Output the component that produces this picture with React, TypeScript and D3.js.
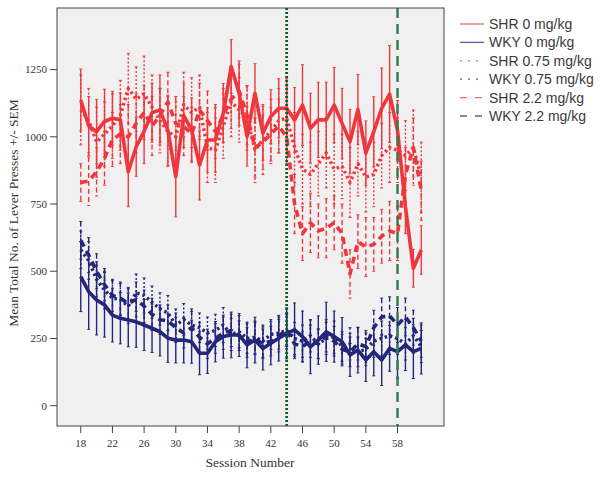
import React from "react";
import * as d3 from "d3";

const sessions = [18,19,20,21,22,23,24,25,26,27,28,29,30,31,32,33,34,35,36,37,38,39,40,41,42,43,44,45,46,47,48,49,50,51,52,53,54,55,56,57,58,59,60,61];
const xTicks = [18,22,26,30,34,38,42,46,50,54,58];
const yTicks = [0,250,500,750,1000,1250];
const refLines = [44, 58];

const shr0Mean = [1137,1040,1019,1057,1069,1063,870,963,1020,1090,1100,1025,852,1080,1025,895,988,988,1088,1261,1162,1001,1162,1013,1075,1106,1106,1063,1118,1032,1063,1063,1118,1050,982,1102,939,1019,1106,1159,1025,740,511,579];
const shr0Sem = [115,110,120,120,100,100,130,110,120,110,130,130,150,120,120,130,120,120,110,100,120,110,110,100,100,110,110,120,150,130,140,140,140,130,120,130,120,130,150,180,110,100,70,90];

const shr075Mean = [1100,1060,980,1010,1040,1080,1180,1140,1160,1110,1060,1020,1000,1120,1090,1110,960,950,1040,1130,1100,1070,950,990,1020,1060,1070,960,880,860,900,940,880,890,830,900,850,860,930,960,950,930,960,850];
const shr075Sem = [130,120,130,120,120,130,130,120,140,120,120,130,130,120,130,120,130,120,120,130,120,120,120,130,120,120,120,130,130,120,120,130,130,120,130,120,130,120,120,130,120,130,140,130];

const shr22Mean = [830,835,870,920,990,1010,1000,1050,1090,1040,1080,1130,1050,1040,1010,1100,1060,1020,1080,1140,1170,1080,960,980,1010,1040,1000,750,640,680,650,660,680,640,490,610,590,600,630,650,640,860,960,800];
const shr22Sem = [70,90,90,100,100,110,120,110,100,110,100,110,100,110,100,100,110,100,100,110,100,110,110,100,100,100,100,110,100,110,100,110,100,110,90,100,110,100,100,110,100,100,110,110];

const wky0Mean = [480,424,393,375,337,325,319,312,300,288,275,251,244,244,238,195,195,238,257,263,263,226,244,213,232,251,269,282,257,219,244,275,257,238,189,207,170,201,170,213,201,226,201,213];
const wky0Sem = [130,140,130,120,100,95,100,95,95,90,90,90,85,85,80,80,75,75,80,85,80,85,85,80,80,85,95,100,95,100,90,110,95,90,80,85,80,90,95,85,100,95,100,95];

const wky075Mean = [580,540,470,430,400,395,370,420,410,385,360,345,300,320,300,290,270,280,300,265,275,250,255,240,265,270,280,250,240,260,230,250,255,220,230,200,210,240,250,260,250,230,260,220];
const wky075Sem = [70,70,65,70,65,60,65,70,65,60,60,65,60,60,60,55,60,60,65,60,60,55,60,60,55,60,60,60,60,60,55,60,60,55,60,55,60,60,65,70,60,60,65,60];

const wky22Mean = [615,560,500,450,410,400,380,395,370,340,320,315,290,270,290,255,230,250,270,280,260,235,250,230,240,260,280,230,220,240,230,260,240,210,200,230,220,290,330,335,300,330,290,240];
const wky22Sem = [70,65,65,60,60,60,60,65,60,60,55,60,55,55,60,55,55,55,60,60,55,55,60,55,55,60,60,55,55,60,55,60,55,55,55,60,60,65,70,70,65,70,65,60];

const legendLabels = ["SHR 0 mg/kg","WKY 0 mg/kg","SHR 0.75 mg/kg","WKY 0.75 mg/kg","SHR 2.2 mg/kg","WKY 2.2 mg/kg"];

const RED = "#f0363d";
const BLUE = "#23267a";

type Style = { color: string; dash: string | null; barDash: string | null; lw: number; legDash: string | null };
const styleSolid = (c: string): Style => ({ color: c, dash: null, barDash: null, lw: 3.6, legDash: null });
const styleDot = (c: string): Style => ({ color: c, dash: "2.5,3", barDash: "2,2", lw: 3.4, legDash: "2,6" });
const styleDash = (c: string): Style => ({ color: c, dash: "7,5", barDash: "5,3", lw: 3.6, legDash: "7,8" });

export default function App() {
  const W = 600, H = 479;
  const left = 57, right = 444, top = 8, bottom = 426;
  const x = d3.scaleLinear().domain([15, 63.87]).range([left, right]);
  const y = d3.scaleLinear().domain([-75.5, 1479]).range([bottom, top]);

  const series = [
    { mean: wky22Mean, sem: wky22Sem, st: styleDash(BLUE) },
    { mean: wky075Mean, sem: wky075Sem, st: styleDot(BLUE) },
    { mean: wky0Mean, sem: wky0Sem, st: styleSolid(BLUE) },
    { mean: shr22Mean, sem: shr22Sem, st: styleDash(RED) },
    { mean: shr075Mean, sem: shr075Sem, st: styleDot(RED) },
    { mean: shr0Mean, sem: shr0Sem, st: styleSolid(RED) },
  ];
  const legendStyles = [styleSolid(RED), styleSolid(BLUE), styleDot(RED), styleDot(BLUE), styleDash(RED), styleDash(BLUE)];

  const line = d3.line<number>().x((_, i) => x(sessions[i])).y((v) => y(v));

  return (
    <svg width={W} height={H} style={{ position: "absolute", left: 0, top: 0, background: "#fff" }}>
      <rect x={left} y={top} width={right - left} height={bottom - top} fill="#f0f0f0" />
      <clipPath id="plotclip"><rect x={left} y={top} width={right - left} height={bottom - top} /></clipPath>
      <g clipPath="url(#plotclip)">
        {series.map((s, si) => (
          <g key={si}>
            {s.mean.map((m, i) => {
              const cx = x(sessions[i]);
              const y1 = y(m + s.sem[i]);
              const y2 = y(m - s.sem[i]);
              return (
                <g key={i} stroke={s.st.color} strokeWidth={1.4}>
                  <line x1={cx} x2={cx} y1={y1} y2={y2} strokeDasharray={s.st.barDash ?? undefined} />
                  <line x1={cx - 1.5} x2={cx + 1.5} y1={y1} y2={y1} strokeWidth={1} />
                  <line x1={cx - 1.5} x2={cx + 1.5} y1={y2} y2={y2} strokeWidth={1} />
                </g>
              );
            })}
            <path d={line(s.mean) ?? ""} fill="none" stroke={s.st.color} strokeWidth={s.st.lw}
              strokeDasharray={s.st.dash ?? undefined} strokeLinejoin="round" />
          </g>
        ))}
        <line x1={x(refLines[0])} x2={x(refLines[0])} y1={top} y2={bottom} stroke="#0d5c2c" strokeWidth={2.8} strokeDasharray="2,2" />
        <line x1={x(refLines[1])} x2={x(refLines[1])} y1={top} y2={bottom} stroke="#2f7d4b" strokeWidth={2.4} strokeDasharray="10,6" />
      </g>
      <rect x={left} y={top} width={right - left} height={bottom - top} fill="none" stroke="#444" strokeWidth={1} />
      {yTicks.map((t) => (
        <g key={t}>
          <line x1={left - 7} x2={left} y1={y(t)} y2={y(t)} stroke="#444" />
          <text x={left - 10} y={y(t)} dy="0.35em" textAnchor="end" fontFamily="Liberation Serif" fontSize={11} fill="#333">{t}</text>
        </g>
      ))}
      {xTicks.map((t) => (
        <g key={t}>
          <line x1={x(t)} x2={x(t)} y1={bottom} y2={bottom + 7} stroke="#444" />
          <text x={x(t)} y={bottom + 21} textAnchor="middle" fontFamily="Liberation Serif" fontSize={11} fill="#333">{t}</text>
        </g>
      ))}
      <text x={250} y={467} textAnchor="middle" fontFamily="Liberation Serif" fontSize={13.5} fill="#333">Session Number</text>
      <text transform={`translate(18,213) rotate(-90)`} textAnchor="middle" fontFamily="Liberation Serif" fontSize={13.5} fill="#333">Mean Total No. of Lever Presses +/- SEM</text>
      {legendLabels.map((lab, i) => {
        const ly = 24 + i * 18.4;
        const st = legendStyles[i];
        return (
          <g key={lab}>
            <line x1={460} x2={484} y1={ly} y2={ly} stroke={st.color} strokeWidth={1.3}
              strokeDasharray={st.legDash ?? undefined} opacity={0.75} />
            <text x={489} y={ly} dy="0.36em" fontFamily="Liberation Sans" fontSize={14} fill="#3a3a3a">{lab}</text>
          </g>
        );
      })}
    </svg>
  );
}
